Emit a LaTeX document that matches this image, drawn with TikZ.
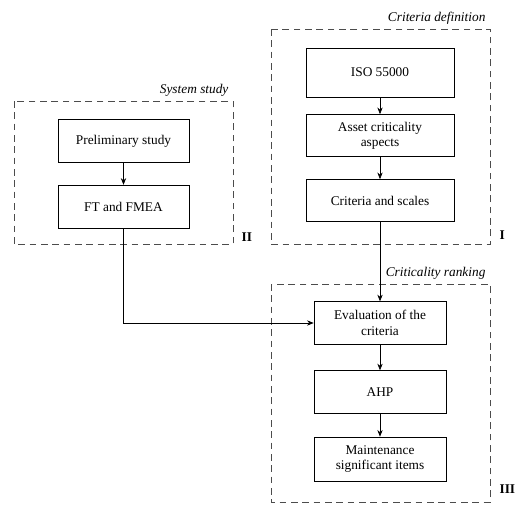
\documentclass[tikz,border=0pt]{standalone}
\usepackage{fontspec}
\setmainfont{Liberation Serif}
\usetikzlibrary{arrows.meta}
\begin{document}
\begin{tikzpicture}[x=0.75pt, y=-0.75pt]
        \tikzset{Step/.style={shape=rectangle, draw, line width=0.5pt, align=center, font=\fontsize{10}{11.5}\selectfont, inner sep=1pt}}
        \tikzset{Top/.style={Step, minimum width=111pt, minimum height=31.5pt}}
        \tikzset{Sys/.style={Step, minimum width=98pt, minimum height=32pt}}
        \tikzset{Rank/.style={Step, minimum width=99pt, minimum height=32pt}}
        \tikzset{Frame/.style={draw, line width=0.5pt, dash pattern=on 5pt off 3.5pt, gray!60!black}}
        \tikzset{Title/.style={font=\fontsize{10}{12}\selectfont\itshape, anchor=south east, inner sep=1pt}}
        \tikzset{Tag/.style={font=\fontsize{10}{12}\selectfont\bfseries, anchor=west, inner sep=1pt}}
        \tikzset{Link/.style={line width=0.5pt, -{Stealth[length=5pt, width=4pt]}}}
        \useasboundingbox (0,0) rectangle (517,504);

        % frames
        \draw[Frame] (271,29) rectangle (490,244);
        \draw[Frame] (14,101) rectangle (233,244);
        \draw[Frame] (271,284) rectangle (490,502);
        \node[Title] (t1) at (487,26) {Criteria definition};
        \node[Title] (t2) at (230,98) {System study};
        \node[Title] (t3) at (487,281) {Criticality ranking};
        \node[Tag] (n1) at (498,235) {I};
        \node[Tag] (n2) at (240,237) {II};
        \node[Tag] (n3) at (498,489) {III};

        % nodes
        \node[Top, minimum height=36.5pt] (iso) at (380,72.5) {ISO 55000};
        \node[Top] (asset) at (380,135.5) {Asset criticality\\aspects};
        \node[Top] (scales) at (380,200.5) {Criteria and scales};

        \node[Sys] (prelim) at (123.5,141) {Preliminary study};
        \node[Sys] (fmea) at (123.5,206.5) {FT and FMEA};

        \node[Rank] (eval) at (380,323) {Evaluation of the\\criteria};
        \node[Rank] (ahp) at (380,392) {AHP};
        \node[Rank, minimum height=33pt] (msi) at (380,459) {Maintenance\\significant items};

        % arrows
        \draw[Link] (iso) -- (asset);
        \draw[Link] (asset) -- (scales);
        \draw[Link] (prelim) -- (fmea);
        \draw[Link] (scales) -- (eval);
        \draw[Link] (fmea) |- (eval);
        \draw[Link] (eval) -- (ahp);
        \draw[Link] (ahp) -- (msi);
    \end{tikzpicture}
\end{document}
